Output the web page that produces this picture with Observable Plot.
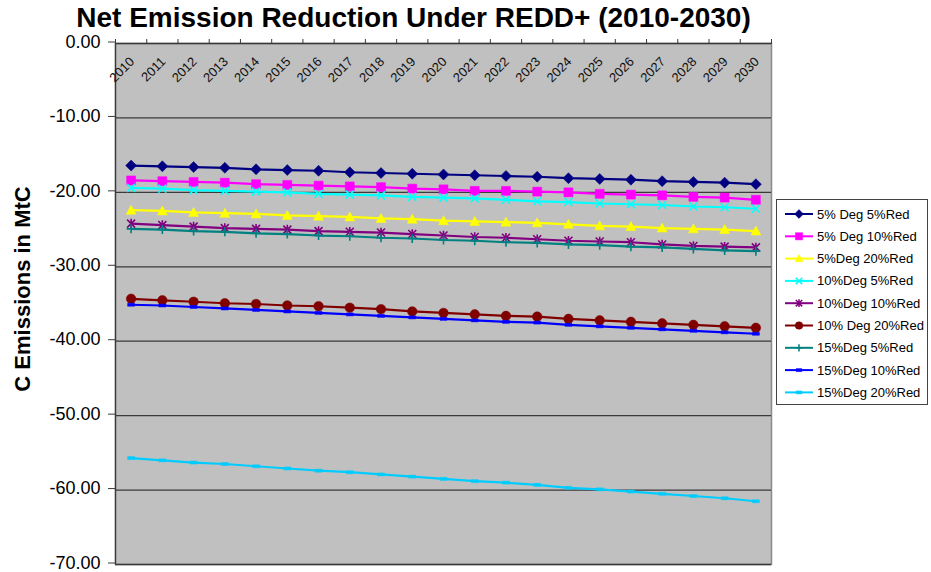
<!DOCTYPE html>
<html>
<head>
<meta charset="utf-8">
<script src="https://cdn.jsdelivr.net/npm/d3@7"></script>
<script src="https://cdn.jsdelivr.net/npm/@observablehq/plot@0.6"></script>
<style>
  body { margin: 0; background: #fff; font-family: "Liberation Sans", Arial, sans-serif; }
  #chart { position: relative; width: 931px; height: 572px; }
  #title { position: absolute; left: 0; top: 1px; width: 827px; text-align: center;
           font-weight: bold; font-size: 28px; line-height: 34px; color: #000; }
  #plot { position: absolute; left: 0; top: 22px; }
  #legend { position: absolute; left: 776px; top: 199px; }
</style>
</head>
<body>
<div id="chart">
  <div id="plot"></div>
  <div id="title">Net Emission Reduction Under REDD+ (2010-2030)</div>
  <div id="legend"></div>
</div>
<script>
// Years on the category axis
const years = [2010, 2011, 2012, 2013, 2014, 2015, 2016, 2017, 2018, 2019, 2020,
               2021, 2022, 2023, 2024, 2025, 2026, 2027, 2028, 2029, 2030];

// Net emission reduction (MtC) per scenario
const deg5red5   = [-16.4, -16.5, -16.6, -16.7, -16.9, -17.0, -17.1, -17.3, -17.4, -17.5, -17.6,
                    -17.7, -17.8, -17.9, -18.1, -18.2, -18.3, -18.5, -18.6, -18.7, -18.9];
const deg5red10  = [-18.4, -18.5, -18.6, -18.7, -18.9, -19.0, -19.1, -19.2, -19.3, -19.5, -19.6,
                    -19.8, -19.8, -19.9, -20.0, -20.2, -20.3, -20.4, -20.6, -20.7, -21.0];
const deg5red20  = [-22.4, -22.5, -22.7, -22.8, -22.9, -23.1, -23.2, -23.3, -23.5, -23.6, -23.8,
                    -23.9, -24.0, -24.1, -24.3, -24.5, -24.6, -24.8, -24.9, -25.0, -25.2];
const deg10red5  = [-19.4, -19.5, -19.7, -19.8, -19.9, -20.0, -20.2, -20.3, -20.4, -20.6, -20.7,
                    -20.8, -21.0, -21.2, -21.3, -21.5, -21.6, -21.7, -21.9, -22.0, -22.2];
const deg10red10 = [-24.2, -24.4, -24.6, -24.8, -24.9, -25.0, -25.2, -25.3, -25.4, -25.6, -25.8,
                    -26.0, -26.1, -26.3, -26.5, -26.6, -26.7, -27.0, -27.2, -27.3, -27.4];
const deg10red20 = [-34.3, -34.5, -34.7, -34.9, -35.0, -35.2, -35.3, -35.5, -35.7, -36.0, -36.2,
                    -36.4, -36.6, -36.7, -37.0, -37.2, -37.4, -37.6, -37.8, -38.0, -38.2];
const deg15red5  = [-24.9, -25.0, -25.2, -25.3, -25.5, -25.6, -25.8, -25.9, -26.1, -26.2, -26.4,
                    -26.5, -26.7, -26.8, -27.0, -27.1, -27.3, -27.4, -27.6, -27.8, -27.9];
const deg15red10 = [-35.1, -35.2, -35.4, -35.6, -35.8, -36.0, -36.2, -36.4, -36.6, -36.8, -37.0,
                    -37.2, -37.4, -37.5, -37.8, -38.0, -38.2, -38.4, -38.6, -38.8, -39.0];
const deg15red20 = [-55.7, -56.0, -56.3, -56.5, -56.8, -57.1, -57.4, -57.6, -57.9, -58.2, -58.5,
                    -58.8, -59.0, -59.3, -59.7, -59.9, -60.2, -60.5, -60.8, -61.1, -61.5];

// Scenario names, in legend order
const scenarioNames = ["5% Deg 5%Red", "5% Deg 10%Red", "5%Deg 20%Red", "10%Deg 5%Red",
                       "10%Deg 10%Red", "10% Deg 20%Red", "15%Deg 5%Red", "15%Deg 10%Red",
                       "15%Deg 20%Red"];
const scenarioValues = [deg5red5, deg5red10, deg5red20, deg10red5, deg10red10,
                        deg10red20, deg15red5, deg15red10, deg15red20];

// Value axis ticks
const yTicks = [0, -10, -20, -30, -40, -50, -60, -70];

// Marker shapes (spreadsheet-style)
const rOf = size => Math.sqrt(size / Math.PI);
const diamondSym = { draw(c, s) { const r = rOf(s); c.moveTo(0, -r); c.lineTo(r, 0); c.lineTo(0, r); c.lineTo(-r, 0); c.closePath(); } };
const squareSym  = { draw(c, s) { const r = rOf(s); c.rect(-r, -r, 2 * r, 2 * r); } };
const triSym     = { draw(c, s) { const r = rOf(s); c.moveTo(0, -r); c.lineTo(r, r * 0.8); c.lineTo(-r, r * 0.8); c.closePath(); } };
const circleSym  = { draw(c, s) { const r = rOf(s); c.moveTo(r, 0); c.arc(0, 0, r, 0, 2 * Math.PI); } };
const timesSym   = { draw(c, s) { const r = rOf(s); c.moveTo(-r, -r); c.lineTo(r, r); c.moveTo(r, -r); c.lineTo(-r, r); } };
const starSym    = { draw(c, s) { const r = rOf(s); c.moveTo(-r, -r); c.lineTo(r, r); c.moveTo(r, -r); c.lineTo(-r, r); c.moveTo(0, -r * 1.2); c.lineTo(0, r * 1.2); } };
const plusSym    = { draw(c, s) { const r = rOf(s); c.moveTo(-r, 0); c.lineTo(r, 0); c.moveTo(0, -r); c.lineTo(0, r); } };
const dashSym    = { draw(c, s) { const r = rOf(s); c.rect(-r, -1.5, 2 * r, 3); } };

const styles = [
  { color: "#000080", symbol: diamondSym, r: 5.5, filled: true },
  { color: "#ff00ff", symbol: squareSym,  r: 4.5, filled: true },
  { color: "#ffff00", symbol: triSym,     r: 5,   filled: true },
  { color: "#00ffff", symbol: timesSym,   r: 4,   filled: false },
  { color: "#800080", symbol: starSym,    r: 4,   filled: false },
  { color: "#800000", symbol: circleSym,  r: 4.8, filled: true },
  { color: "#008080", symbol: plusSym,    r: 4.5, filled: false },
  { color: "#0000ff", symbol: dashSym,    r: 3.5, filled: true },
  { color: "#00ccff", symbol: dashSym,    r: 3.5, filled: true }
];

const rows = scenarioNames.map((name, k) =>
  years.map((year, i) => ({ name, year, value: scenarioValues[k][i] })));

const boundaries = years.map(y => y - 0.5).concat([years[years.length - 1] + 0.5]);
const fmt = d => d.toFixed(2);

const seriesMarks = rows.flatMap((data, k) => {
  const st = styles[k];
  return [
    Plot.line(data, { x: "year", y: "value", stroke: st.color, strokeWidth: 2.2 }),
    Plot.dot(data, {
      x: "year", y: "value", symbol: st.symbol, r: st.r,
      fill: st.filled ? st.color : "none",
      stroke: st.color, strokeWidth: st.filled ? 0.5 : 1.6
    })
  ];
});

const chart = Plot.plot({
  width: 931,
  height: 550,
  marginTop: 21,
  marginBottom: 8,
  marginLeft: 115,
  marginRight: 160,
  style: { fontFamily: "'Liberation Sans', Arial, sans-serif", background: "transparent", color: "#000" },
  x: { type: "linear", domain: [2009.5, 2030.5] },
  y: { domain: [-70, 0] },
  marks: [
    Plot.frame({ fill: "#c0c0c0", stroke: "#8a8a8a", strokeWidth: 1.5 }),
    Plot.ruleY(yTicks, { stroke: "#3a3a3a", strokeWidth: 1.3 }),
    Plot.ruleX([2009.5], { stroke: "#3a3a3a", strokeWidth: 1.3 }),
    Plot.axisY({ ticks: yTicks, tickFormat: fmt, tickSize: 7, tickPadding: 8, fontSize: 18,
                 dy: -1.5, stroke: "#3a3a3a", label: null }),
    Plot.axisX({ anchor: "top", ticks: boundaries, tickSize: 5, tickFormat: () => "",
                 stroke: "#3a3a3a", label: null }),
    Plot.text(years, { x: d => d, text: d => String(d), frameAnchor: "top", rotate: -45,
                       textAnchor: "end", lineAnchor: "bottom", dx: 4, dy: 19,
                       fontSize: 13, fill: "#111" }),
    Plot.text(["C Emissions in MtC"], { frameAnchor: "left", textAnchor: "middle", rotate: -90,
                                        dx: -93, dy: -15, fontSize: 22, fontWeight: "bold", fill: "#000" }),
    ...seriesMarks
  ]
});
document.getElementById("plot").appendChild(chart);

// Legend box with a line-and-marker sample per scenario
const lw = 152, lh = 206, rowGap = 22.3, firstRow = 15;
const leg = d3.select("#legend").append("svg")
  .attr("width", lw).attr("height", lh)
  .style("font-family", "'Liberation Sans', Arial, sans-serif");
leg.append("rect").attr("x", 0.5).attr("y", 0.5).attr("width", lw - 1).attr("height", lh - 1)
  .attr("fill", "#fff").attr("stroke", "#444").attr("stroke-width", 1);
scenarioNames.forEach((name, k) => {
  const st = styles[k];
  const g = leg.append("g").attr("transform", `translate(0,${firstRow + k * rowGap})`);
  g.append("line").attr("x1", 9).attr("x2", 37).attr("y1", 0).attr("y2", 0)
    .attr("stroke", st.color).attr("stroke-width", 2);
  g.append("path").attr("transform", "translate(23,0)")
    .attr("d", d3.symbol(st.symbol, Math.PI * (st.r * 0.8) ** 2)())
    .attr("fill", st.filled ? st.color : "none")
    .attr("stroke", st.color).attr("stroke-width", st.filled ? 0.5 : 1.5);
  g.append("text").attr("x", 41).attr("y", 0).attr("dy", "0.35em")
    .attr("font-size", 13).attr("fill", "#000").text(name);
});
</script>
</body>
</html>
